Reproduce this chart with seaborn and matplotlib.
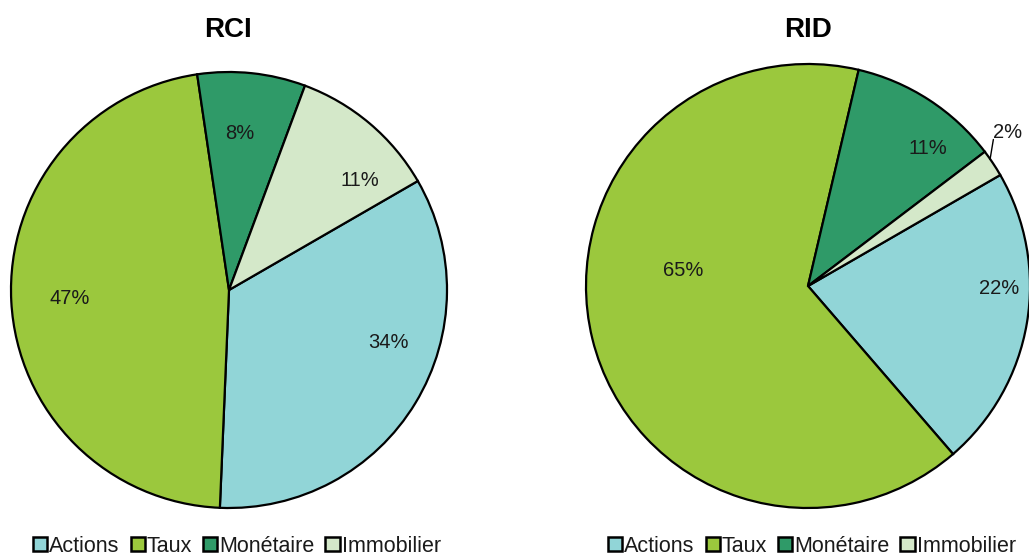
import matplotlib
matplotlib.use("Agg")
import matplotlib.pyplot as plt
import seaborn as sns
from matplotlib.patches import Patch

sns.set_theme(style="white")
plt.rcParams['font.family'] = ['Liberation Sans', 'DejaVu Sans']

categories = ["Actions", "Taux", "Monétaire", "Immobilier"]
rci_values = [34, 47, 8, 11]
rid_values = [22, 65, 11, 2]
titles = ["RCI", "RID"]
colors = ["#91d5d7", "#9bc83d", "#2f9a68", "#d4e8c9"]

# label positions (in pie radius units) to mimic the reference placement
rci_label_pos = [(0.73, -0.24), (-0.73, -0.04), (0.05, 0.72), (0.60, 0.50)]
rid_label_pos = [(0.86, -0.01), (-0.56, 0.07), (0.54, 0.62), (0.90, 0.69)]

W, H = 1029, 555
fig = plt.figure(figsize=(W / 100, H / 100), dpi=100)

def make_axes(cx, cy, r):
    return fig.add_axes([(cx - r) / W, (H - (cy + r)) / H, 2 * r / W, 2 * r / H])

specs = [
    (make_axes(229, 290, 218), rci_values, rci_label_pos, titles[0], 228, 237),
    (make_axes(808, 286, 222), rid_values, rid_label_pos, titles[1], 808, 812),
]

for ax, vals, lpos, title, tx, lx in specs:
    wedges, texts, autotexts = ax.pie(
        vals, colors=colors, startangle=30, counterclock=False,
        autopct=lambda p: f"{p:.0f}%", pctdistance=0.75,
        wedgeprops=dict(edgecolor="black", linewidth=1.6),
        textprops=dict(fontsize=14.5, color="#1a1a1a"),
    )
    for t, (x, y) in zip(autotexts, lpos):
        t.set_position((x, y))
    ax.set_xlim(-1, 1)
    ax.set_ylim(-1, 1)
    ax.set_aspect("equal")
    ax.axis("off")
    for w in wedges:
        w.set_clip_on(False)
    if title == "RID":
        ax.plot([0.82, 0.835], [0.57, 0.66], color="black", lw=1.0, clip_on=False)

    fig.text(tx / W, 1 - 30 / H, title,
             ha="center", va="center", fontsize=20, fontweight="bold", color="black")

    handles = [Patch(facecolor=c, edgecolor="black", linewidth=1.8) for c in colors]
    fig.legend(handles, categories, loc="center", bbox_to_anchor=(lx / W, 1 - 546 / H),
               ncol=4, frameon=False, fontsize=15.5, handlelength=0.66, handleheight=0.66,
               handletextpad=0.1, columnspacing=0.5, borderaxespad=0,
               labelcolor="#1a1a1a")

fig.savefig("out.png", dpi=100)
